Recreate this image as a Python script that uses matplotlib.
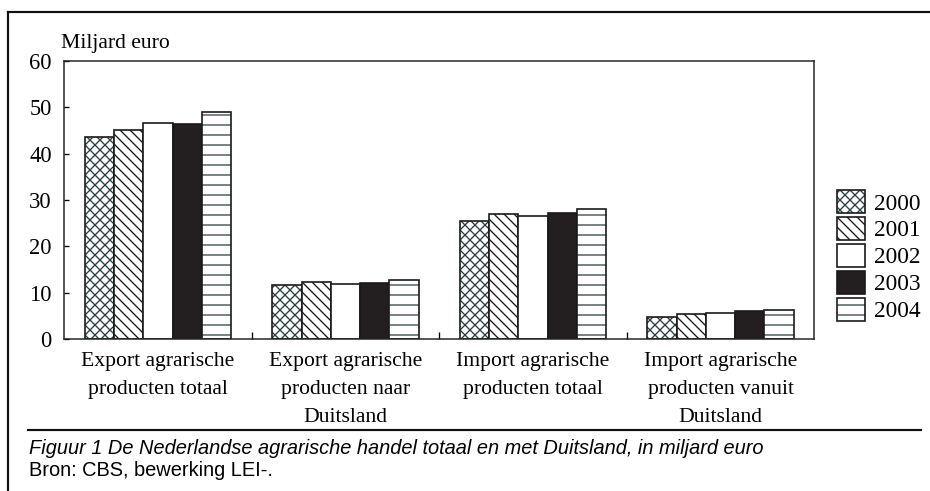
import matplotlib
matplotlib.use("Agg")
import matplotlib.pyplot as plt
from matplotlib.lines import Line2D
import numpy as np

categories = ["Export agrarische\nproducten totaal",
              "Export agrarische\nproducten naar\nDuitsland",
              "Import agrarische\nproducten totaal",
              "Import agrarische\nproducten vanuit\nDuitsland"]
years = ["2000", "2001", "2002", "2003", "2004"]
v2000 = [43.6, 11.7, 25.4, 4.8]
v2001 = [45.2, 12.2, 27.0, 5.4]
v2002 = [46.6, 11.9, 26.6, 5.7]
v2003 = [46.4, 12.0, 27.1, 6.0]
v2004 = [49.0, 12.8, 28.1, 6.3]
series = [v2000, v2001, v2002, v2003, v2004]
yticks = [0, 10, 20, 30, 40, 50, 60]
ylabel = "Miljard euro"
caption = "Figuur 1 De Nederlandse agrarische handel totaal en met Duitsland, in miljard euro"
source = "Bron: CBS, bewerking LEI-."

facecolors = ["white", "white", "white", "#231f20", "white"]
hatches = ["xxxx", "\\\\\\\\", "", "", "--"]
hatchcolors = ["#2b4040", "#1a1a1a", "#1a1a1a", "#1a1a1a", "#3c4a4a"]

W, H = 930, 491
DPI = 120
plt.rcParams["hatch.linewidth"] = 0.8
plt.rcParams["font.family"] = ["Liberation Serif", "DejaVu Serif"]
serif = ["Liberation Serif", "DejaVu Serif"]
sans = ["Liberation Sans", "DejaVu Sans"]

fig = plt.figure(figsize=(W / DPI, H / DPI), dpi=DPI)
ax = fig.add_axes([64.3 / W, 1 - 339 / H, (814.3 - 64.3) / W, (339 - 61) / H])

x = np.arange(len(categories))
bw = 0.156
handles = []
for i, (vals, yr) in enumerate(zip(series, years)):
    pos = x + (i - 2) * bw
    fill = ax.bar(pos, vals, width=bw, color=facecolors[i],
                  edgecolor=hatchcolors[i], linewidth=0, hatch=hatches[i])
    edge = ax.bar(pos, vals, width=bw, facecolor="none",
                  edgecolor="#1a1a1a", linewidth=1.0)
    handles.append((fill, edge))

ax.set_xlim(-0.5, len(categories) - 0.5)
ax.set_ylim(0, 60)
ax.set_yticks(yticks)
ax.set_yticklabels([str(t) for t in yticks], fontsize=13.5, family=serif)
ax.set_xticks(x)
ax.set_xticklabels(categories, fontsize=13, family=serif, linespacing=1.62, va="top")
ax.set_xticks(np.arange(0.5, len(categories) - 0.5, 1.0), minor=True)
ax.tick_params(axis="x", which="major", length=0, pad=8)
ax.tick_params(axis="x", which="minor", direction="in", length=4, width=0.8)
ax.tick_params(axis="y", direction="in", length=3, width=0.8, pad=7.5)
for s in ax.spines.values():
    s.set_linewidth(0.9)
    s.set_color("#222222")

fig.text(61 / W, 1 - 47.7 / H, ylabel, fontsize=13, family=serif, va="baseline", ha="left")

leg = ax.legend(handles=handles, labels=years, loc="upper left",
                bbox_to_anchor=(837.3 / W, 1 - 190 / H), bbox_transform=fig.transFigure,
                frameon=False, borderpad=0, borderaxespad=0,
                prop={"family": serif, "size": 14},
                handlelength=1.2, handleheight=1.16, labelspacing=0.1,
                handletextpad=0.37)

# frame lines
lw = 1.3
fig.add_artist(Line2D([8.3 / W, 1.0], [1 - 11.7 / H, 1 - 11.7 / H], transform=fig.transFigure,
                      color="#111111", linewidth=lw))
fig.add_artist(Line2D([8.3 / W, 8.3 / W], [1 - 11.7 / H, 0.0], transform=fig.transFigure,
                      color="#111111", linewidth=lw))
fig.add_artist(Line2D([28 / W, 921 / W], [1 - 430 / H, 1 - 430 / H], transform=fig.transFigure,
                      color="#111111", linewidth=lw))

fig.text(29 / W, 1 - 454 / H, caption, fontsize=12.0, family=sans, style="italic",
         va="baseline", ha="left")
fig.text(29 / W, 1 - 476 / H, source, fontsize=12.0, family=sans,
         va="baseline", ha="left")

fig.savefig("out.png", dpi=DPI)
